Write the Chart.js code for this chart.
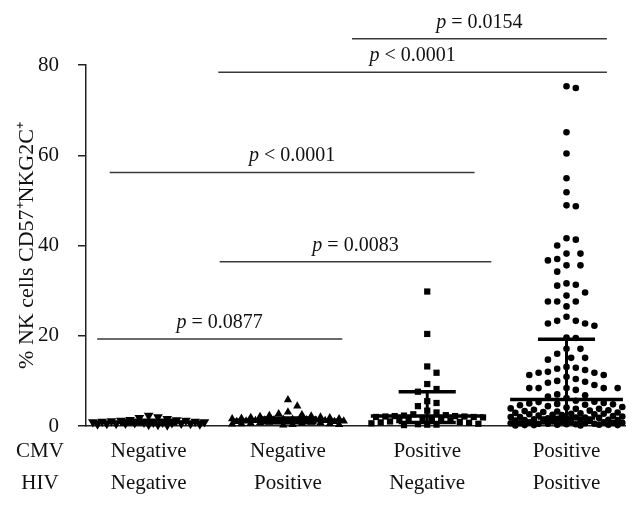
<!DOCTYPE html>
<html>
<head>
<meta charset="utf-8">
<script src="https://cdn.jsdelivr.net/npm/chart.js@4/dist/chart.umd.min.js"></script>
<style>
  body { margin: 0; background: #fff; }
  #wrap { width: 640px; height: 507px; }
</style>
</head>
<body>
<div id="wrap"><canvas id="my-chart"></canvas></div>
<script>
//Declare Global Variables
var cmvLabels = ['Negative', 'Negative', 'Positive', 'Positive'];
var hivLabels = ['Negative', 'Positive', 'Negative', 'Positive'];
var groupPos = [1, 2, 3, 4];
var yTicks = [0, 20, 40, 60, 80];

var cmvNegHivNeg = [0.2, 0.3, 0.3, 0.4, 0.4, 0.5, 0.5, 0.5, 0.6, 0.6, 0.7, 0.7, 0.8, 0.8, 0.8,
  0.9, 0.9, 1.0, 1.0, 1.1, 1.2, 1.2, 1.3, 1.4, 1.6, 1.8, 2.0, 2.3];
var cmvNegHivPos = [0.2, 0.3, 0.3, 0.4, 0.5, 0.5, 0.6, 0.6, 0.7, 0.7, 0.8, 0.8, 0.9, 0.9, 1.0,
  1.0, 1.0, 1.1, 1.1, 1.2, 1.2, 1.3, 1.3, 1.4, 1.4, 1.5, 1.5, 1.6, 1.6, 1.7, 1.8, 1.9, 2.0,
  2.1, 2.2, 2.3, 2.5, 2.7, 3.1, 4.4, 5.8];
var cmvPosHivNeg = [29.8, 20.4, 13.2, 11.8, 9.3, 8.2, 7.6, 5.5, 5.1, 4.4, 3.4, 3.0, 2.6, 2.4,
  2.3, 2.2, 2.2, 2.1, 2.1, 2.0, 2.0, 1.9, 1.8, 1.6, 1.5, 1.4, 1.3, 1.2, 1.0, 0.9, 0.8, 0.7,
  0.6, 0.5, 0.4, 0.3, 0.3, 0.2];
var cmvPosHivPos = [75.3, 74.9, 65.1, 60.4, 54.9, 51.8, 48.9, 48.7, 41.6, 41.3, 40.0, 38.2,
  38.2, 37.0, 36.7, 35.6, 35.6, 34.2, 31.6, 31.3, 31.1, 29.6, 28.9, 27.6, 27.6, 27.6, 26.5,
  24.2, 23.3, 23.3, 22.7, 22.7, 22.2, 19.6, 19.5, 17.1, 17.1, 16.0, 15.1, 15.1, 14.7, 13.1,
  12.9, 12.7, 12.4, 12.0, 11.8, 11.8, 11.3, 11.3, 10.9, 10.4, 10.0, 9.8, 9.6, 9.1, 8.4, 8.4,
  8.4, 8.4, 8.4, 8.0, 7.0, 6.8, 6.5, 6.2,
  5.6, 5.4, 5.3, 5.1, 5.0, 4.8, 4.7, 4.6, 4.4, 4.2, 4.1, 3.9, 3.8, 3.8, 3.6, 3.5, 3.3, 3.2,
  3.1, 3.0, 2.9, 2.8, 2.7, 2.6, 2.6, 2.5, 2.4, 2.3, 2.2, 2.1, 2.0, 2.0, 1.9, 1.8, 1.7, 1.6,
  1.6, 1.5, 1.4, 1.3, 1.3, 1.2, 1.1, 1.0, 1.0, 0.9, 0.9, 0.8, 0.8, 0.7, 0.7, 0.6, 0.6, 0.5,
  0.5, 0.5, 0.4, 0.4, 0.3, 0.3, 0.3, 0.2, 0.2, 0.2, 0.1, 0.1, 4.9, 3.4, 2.7, 1.9, 1.1, 0.6];

var medians = [0.9, 1.3, 2.2, 5.9];
var lowerQ = [0.5, 0.7, 0.8, 1.8];
var upperQ = [1.3, 1.8, 7.6, 19.2];

// significance bars: p text, height and span on the x axis
var pTexts = ['= 0.0877', '= 0.0083', '< 0.0001', '< 0.0001', '= 0.0154'];
var barHeights = [19.3, 36.4, 56.2, 78.4, 85.8];
var barStart = [0.63, 1.51, 0.72, 1.5, 2.46];
var barEnd = [2.39, 3.46, 3.34, 4.29, 4.29];

var allGroups = [cmvNegHivNeg, cmvNegHivPos, cmvPosHivNeg, cmvPosHivPos];
var pointStyles = ['triangle', 'triangle', 'rect', 'circle'];
var pointRotations = [180, 0, 0, 0];
var pointRadii = [5.6, 4.8, 4.4, 3.3];

var FONT = '"Liberation Serif", "Times New Roman", serif';
var INK = '#111';

//Build datasets
var datasets = [];

for (var i = 0; i < barHeights.length; i++) {
  datasets.push({
    type: 'line',
    data: [{ x: barStart[i], y: barHeights[i] }, { x: barEnd[i], y: barHeights[i] }],
    borderColor: '#3a3a3a',
    borderWidth: 1.5,
    pointRadius: 0,
    clip: false
  });
}

for (var g = 0; g < allGroups.length; g++) {
  datasets.push({
    type: 'scatter',
    data: allGroups[g].map(function (v) { return { x: groupPos[g], y: v }; }),
    pointStyle: pointStyles[g],
    rotation: pointRotations[g],
    radius: pointRadii[g],
    backgroundColor: '#000',
    borderColor: '#000',
    borderWidth: 0,
    clip: false,
    swarmGroup: g
  });
}

for (var g = 0; g < groupPos.length; g++) {
  var c = groupPos[g];
  // median line
  datasets.push({
    type: 'line',
    data: [{ x: c - 0.405, y: medians[g] }, { x: c + 0.405, y: medians[g] }],
    borderColor: '#000', borderWidth: 3.5, pointRadius: 0, borderCapStyle: 'butt'
  });
  // interquartile range: two caps and a stem
  datasets.push({
    type: 'line',
    data: [{ x: c - 0.205, y: upperQ[g] }, { x: c + 0.205, y: upperQ[g] }],
    borderColor: '#000', borderWidth: 3.5, pointRadius: 0
  });
  datasets.push({
    type: 'line',
    data: [{ x: c - 0.205, y: lowerQ[g] }, { x: c + 0.205, y: lowerQ[g] }],
    borderColor: '#000', borderWidth: 3.5, pointRadius: 0
  });
  datasets.push({
    type: 'line',
    data: [{ x: c, y: lowerQ[g] }, { x: c, y: upperQ[g] }],
    borderColor: '#000', borderWidth: 3, pointRadius: 0
  });
}

//Plugin for the CMV / HIV row names and the p values
var extraText = {
  id: 'extraText',
  afterDraw: function (chart) {
    var ctx = chart.ctx;
    var xs = chart.scales.x;
    var ys = chart.scales.y;
    ctx.save();
    ctx.fillStyle = INK;
    ctx.font = '21px ' + FONT;
    ctx.textAlign = 'center';
    ctx.textBaseline = 'middle';
    ctx.fillText('CMV', 40, chart.chartArea.bottom + 25);
    ctx.fillText('HIV', 40, chart.chartArea.bottom + 57);

    ctx.textBaseline = 'alphabetic';
    ctx.textAlign = 'left';
    for (var i = 0; i < pTexts.length; i++) {
      var mid = (xs.getPixelForValue(barStart[i]) + xs.getPixelForValue(barEnd[i])) / 2;
      var py = ys.getPixelForValue(barHeights[i]) - 11;
      ctx.font = 'italic 20px ' + FONT;
      var wp = ctx.measureText('p').width;
      ctx.font = '20px ' + FONT;
      var rest = ' ' + pTexts[i];
      var wr = ctx.measureText(rest).width;
      var left = mid - (wp + wr) / 2;
      ctx.font = 'italic 20px ' + FONT;
      ctx.fillText('p', left, py);
      ctx.font = '20px ' + FONT;
      ctx.fillText(rest, left + wp, py);
    }
    ctx.restore();
  }
};

var myChart = new Chart(document.getElementById('my-chart').getContext('2d'), {
  data: { datasets: datasets },
  options: {
    responsive: true,
    maintainAspectRatio: false,
    animation: false,
    layout: { padding: { top: 65, right: 15, left: 0, bottom: 0 } },
    plugins: { legend: { display: false }, tooltip: { enabled: false } },
    scales: {
      x: {
        type: 'linear',
        min: 0.55,
        max: 4.42,
        afterBuildTicks: function (scale) {
          scale.ticks = groupPos.map(function (v) { return { value: v }; });
        },
        afterFit: function (scale) { scale.height = 81; },
        ticks: {
          color: INK,
          padding: 10,
          autoSkip: false,
          maxRotation: 0,
          font: { family: FONT, size: 21, lineHeight: 1.52 },
          callback: function (value) {
            var k = groupPos.indexOf(value);
            return k < 0 ? '' : [cmvLabels[k], hivLabels[k]];
          }
        },
        grid: { display: false, drawTicks: false },
        border: { display: true, color: '#222', width: 1.5 }
      },
      y: {
        min: 0,
        max: 80,
        afterBuildTicks: function (scale) {
          scale.ticks = yTicks.map(function (v) { return { value: v }; });
        },
        afterFit: function (scale) { scale.width = 86; },
        ticks: { color: INK, padding: 19, font: { family: FONT, size: 21 } },
        grid: { display: true, drawOnChartArea: false, drawTicks: true, tickLength: 8, color: '#222', lineWidth: 1.5 },
        border: { display: true, color: '#222', width: 1.5 },
        title: {
          display: true,
          text: '% NK cells CD57\u207ANKG2C\u207A',
          color: INK,
          font: { family: FONT, size: 22 },
          padding: { top: 14, bottom: 0 }
        }
      }
    }
  },
  plugins: [extraText]
});

//Spread the points of each column sideways so they do not overlap (beeswarm)
function swarmColumn(values, center, gap, maxHalf) {
  var xs = myChart.scales.x;
  var ys = myChart.scales.y;
  var cx = xs.getPixelForValue(center);
  var step = gap / 2;
  var placed = [];
  var out = [];
  var sorted = values.slice().sort(function (a, b) { return b - a; });
  for (var i = 0; i < sorted.length; i++) {
    var py = ys.getPixelForValue(sorted[i]);
    var chosen = null;
    var bestOff = 0;
    var bestScore = -1;
    for (var k = 0; k * step <= maxHalf && chosen === null; k++) {
      var offs = k === 0 ? [0] : [k * step, -k * step];
      for (var j = 0; j < offs.length; j++) {
        var minD = Infinity;
        for (var p = 0; p < placed.length; p++) {
          var d = Math.hypot(placed[p].x - (cx + offs[j]), placed[p].y - py);
          if (d < minD) minD = d;
        }
        if (minD >= gap) { chosen = offs[j]; break; }
        if (minD > bestScore) { bestScore = minD; bestOff = offs[j]; }
      }
    }
    if (chosen === null) chosen = bestOff;
    placed.push({ x: cx + chosen, y: py });
    out.push({ x: xs.getValueForPixel(cx + chosen), y: sorted[i] });
  }
  return out;
}

myChart.data.datasets.forEach(function (ds) {
  if (ds.swarmGroup !== undefined) {
    ds.data = swarmColumn(allGroups[ds.swarmGroup], groupPos[ds.swarmGroup], 9.3, 57);
  }
});
myChart.update('none');
</script>
</body>
</html>
